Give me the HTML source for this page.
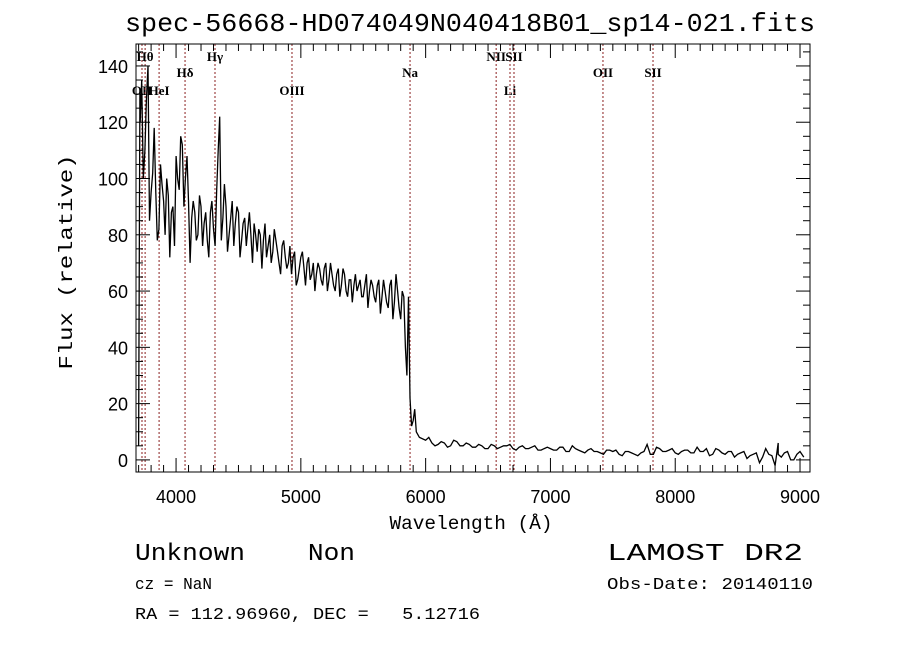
<!DOCTYPE html>
<html><head><meta charset="utf-8"><style>
html,body{margin:0;padding:0;background:#fff;width:900px;height:649px;overflow:hidden}
svg text{font-family:"Liberation Mono",monospace;fill:#000;white-space:pre}
.tk{font-family:"Liberation Sans",sans-serif;font-size:18px}
.ln{font-family:"Liberation Serif",serif;font-size:13px;font-weight:bold}
</style></head><body>
<svg id="chart" width="900" height="649" xmlns="http://www.w3.org/2000/svg" xml:space="preserve">
<text x="470" y="31" text-anchor="middle" font-size="26" textLength="690" lengthAdjust="spacingAndGlyphs">spec-56668-HD074049N040418B01_sp14-021.fits</text>
<g id="lines"></g>
<path id="spec" fill="none" stroke="#000" stroke-width="1.3"/>
<g id="axes"></g>
<rect x="136" y="44" width="674" height="428" fill="none" stroke="#000" stroke-width="1"/>
<text transform="translate(72,262) rotate(-90)" text-anchor="middle" font-size="19" textLength="215" lengthAdjust="spacingAndGlyphs">Flux (relative)</text>
<text x="471" y="529" text-anchor="middle" font-size="19" textLength="163" lengthAdjust="spacingAndGlyphs">Wavelength (Å)</text>
<text x="135" y="560" font-size="24" textLength="220" lengthAdjust="spacingAndGlyphs">Unknown    Non</text>
<text x="607" y="560" font-size="24" textLength="196" lengthAdjust="spacingAndGlyphs">LAMOST DR2</text>
<text x="135" y="589" font-size="17" textLength="77" lengthAdjust="spacingAndGlyphs">cz = NaN</text>
<text x="607" y="589" font-size="17" textLength="206" lengthAdjust="spacingAndGlyphs">Obs-Date: 20140110</text>
<text x="135" y="619" font-size="17" textLength="345" lengthAdjust="spacingAndGlyphs">RA = 112.96960, DEC =   5.12716</text>
</svg>
<script>
const wavelengths=[3700,3710,3725,3750,3775,3800,3825,3850,3875,3900,3925,3950,3975,4000,4025,4050,4075,4100,4125,4150,4175,4200,4225,4250,4275,4300,4325,4350,4375,4400,4425,4450,4475,4500,4525,4550,4575,4600,4625,4650,4675,4700,4725,4750,4775,4800,4825,4850,4875,4900,4925,4950,4975,5000,5025,5050,5075,5100,5125,5150,5175,5200,5225,5250,5275,5300,5325,5350,5375,5400,5425,5450,5475,5500,5525,5550,5575,5600,5625,5650,5675,5700,5725,5750,5775,5800,5825,5850,5875,5900,5925,5950,6000,6050,6100,6150,6200,6250,6300,6350,6400,6450,6500,6550,6600,6650,6700,6750,6800,6850,6900,6950,7000,7050,7100,7150,7200,7250,7300,7350,7400,7450,7500,7550,7600,7650,7700,7750,7800,7850,7900,7950,8000,8050,8100,8150,8200,8250,8300,8350,8400,8450,8500,8550,8600,8650,8700,8750,8800,8825,8850,8900,8950,9000,9030];
const flux=[5,130,135,110,140,95,118,78,105,92,100,72,90,108,96,112,100,92,86,88,80,90,84,78,88,82,95,122,86,90,80,92,84,88,78,86,82,80,84,74,80,78,72,80,74,78,70,76,72,70,66,74,64,72,68,70,64,70,66,68,62,70,64,66,60,68,62,66,58,64,62,60,64,58,66,60,62,56,64,58,60,54,64,56,60,50,58,30,22,14,10,8,7,6,5.5,6,5,6.5,5,5.5,4.5,5,4,5,4.5,5,4,4.5,4,4.5,3.5,4,4,3.5,4.5,3,4,3,3.5,3,2.5,3.5,3,2,3,2.5,1.5,3,2,4.5,3,3.5,2.5,3,3.5,2.5,3,4,2,3.5,2,3,2,3,1.5,2.5,1,2,-2,6,1,3,0,3,1];
const blueMidFlux=[120,100,128,85,102,95,82,98,80,94,88,76,100,115,90,108,70,92,78,94,76,88,72,92,76,110,78,98,74,86,76,90,72,84,76,88,70,80,82,68,84,76,70,82,74,66,78,68,76,72,62,68,74,62,72,66,60,70,64,68,60,70,62,66,58,68,60,64,56,66,62,58,62,54,64,58,62,52,64,56,62,50,66,54,60,40,58,12,18];
const redMidFlux=[8,5,6.5,4.5,7,5,6,4.5,5.5,4,5.5,4,5,5.5,3.5,5,4,5,3.5,4.5,3.5,4.5,3,5,3.5,2.5,4,3,2,3.5,3.5,1.5,3,2,2.5,5.5,2,4,3,4,2,3.5,2.5,4.5,3,1.5,4,2.5,3,1,2.5,0.5,2,-1,4,1.5,2,2.5,0,2];
const lineWaves=[3727,3752,3864,4072,4312,4929,5875,6565,6676,6708,7421,7822];
const lineLabels=["OII","Hθ","HeI","Hδ","Hγ","OIII","Na","NII","Li","SII","OII","SII"];
const labelRows=[95,61,95,77,61,95,77,61,95,61,77,77];
const xTicks=[4000,5000,6000,7000,8000,9000];
const yTicks=[0,20,40,60,80,100,120,140];
const X0=136,X1=810,Y0=44,Y1=472,XMIN=3679,XMAX=9080,YMIN=-4.3,YMAX=147.8;
const sx=w=>X0+(w-XMIN)/(XMAX-XMIN)*(X1-X0);
const sy=f=>Y1-(f-YMIN)/(YMAX-YMIN)*(Y1-Y0);
const NS="http://www.w3.org/2000/svg";
function mk(t,a,p){const e=document.createElementNS(NS,t);for(const k in a)e.setAttribute(k,a[k]);p.appendChild(e);return e;}
const pts=wavelengths.map((w,i)=>[w,flux[i]]);
blueMidFlux.forEach((f,i)=>pts.push([3712.5+25*i,f]));
redMidFlux.forEach((f,i)=>pts.push([6025+50*i,f]));
pts.sort((a,b)=>a[0]-b[0]);
let d="";pts.forEach((p,i)=>{d+=(i?"L":"M")+sx(p[0]).toFixed(1)+" "+sy(p[1]).toFixed(1);});
document.getElementById("spec").setAttribute("d",d);
const lg=document.getElementById("lines");
lineWaves.forEach((w,i)=>{
 const l=mk("line",{x1:sx(w),x2:sx(w),y1:Y0,y2:Y1,stroke:"#8b2020","stroke-width":1,"stroke-dasharray":"2,2"},lg);
 
 
 const t=mk("text",{x:sx(w),y:labelRows[i],"text-anchor":"middle",class:"ln"},lg);
 
 
 t.textContent=lineLabels[i];
});
const ax=document.getElementById("axes");
for(let w=3700;w<=9000;w+=100){const x=sx(w);const L=(w%1000===0)?14:7;
 const a=mk("line",{x1:x,x2:x,y1:Y1,y2:Y1-L,stroke:"#000"},ax);
 
 
 const b=mk("line",{x1:x,x2:x,y1:Y0,y2:Y0+L,stroke:"#000"},ax);
 
 }
xTicks.forEach(v=>{const t=mk("text",{x:sx(v),y:503,"text-anchor":"middle",class:"tk"},ax);
 
 
 t.textContent=v;});
for(let v=0;v<=145;v+=5){const y=sy(v);const L=(v%20===0)?14:7;
 const a=mk("line",{x1:X0,x2:X0+L,y1:y,y2:y,stroke:"#000"},ax);
 
 
 const b=mk("line",{x1:X1,x2:X1-L,y1:y,y2:y,stroke:"#000"},ax);
 
 }
yTicks.forEach(v=>{const t=mk("text",{x:128,y:sy(v)+7,"text-anchor":"end",class:"tk"},ax);
 
 
 t.textContent=v;});
</script>
</body></html>
